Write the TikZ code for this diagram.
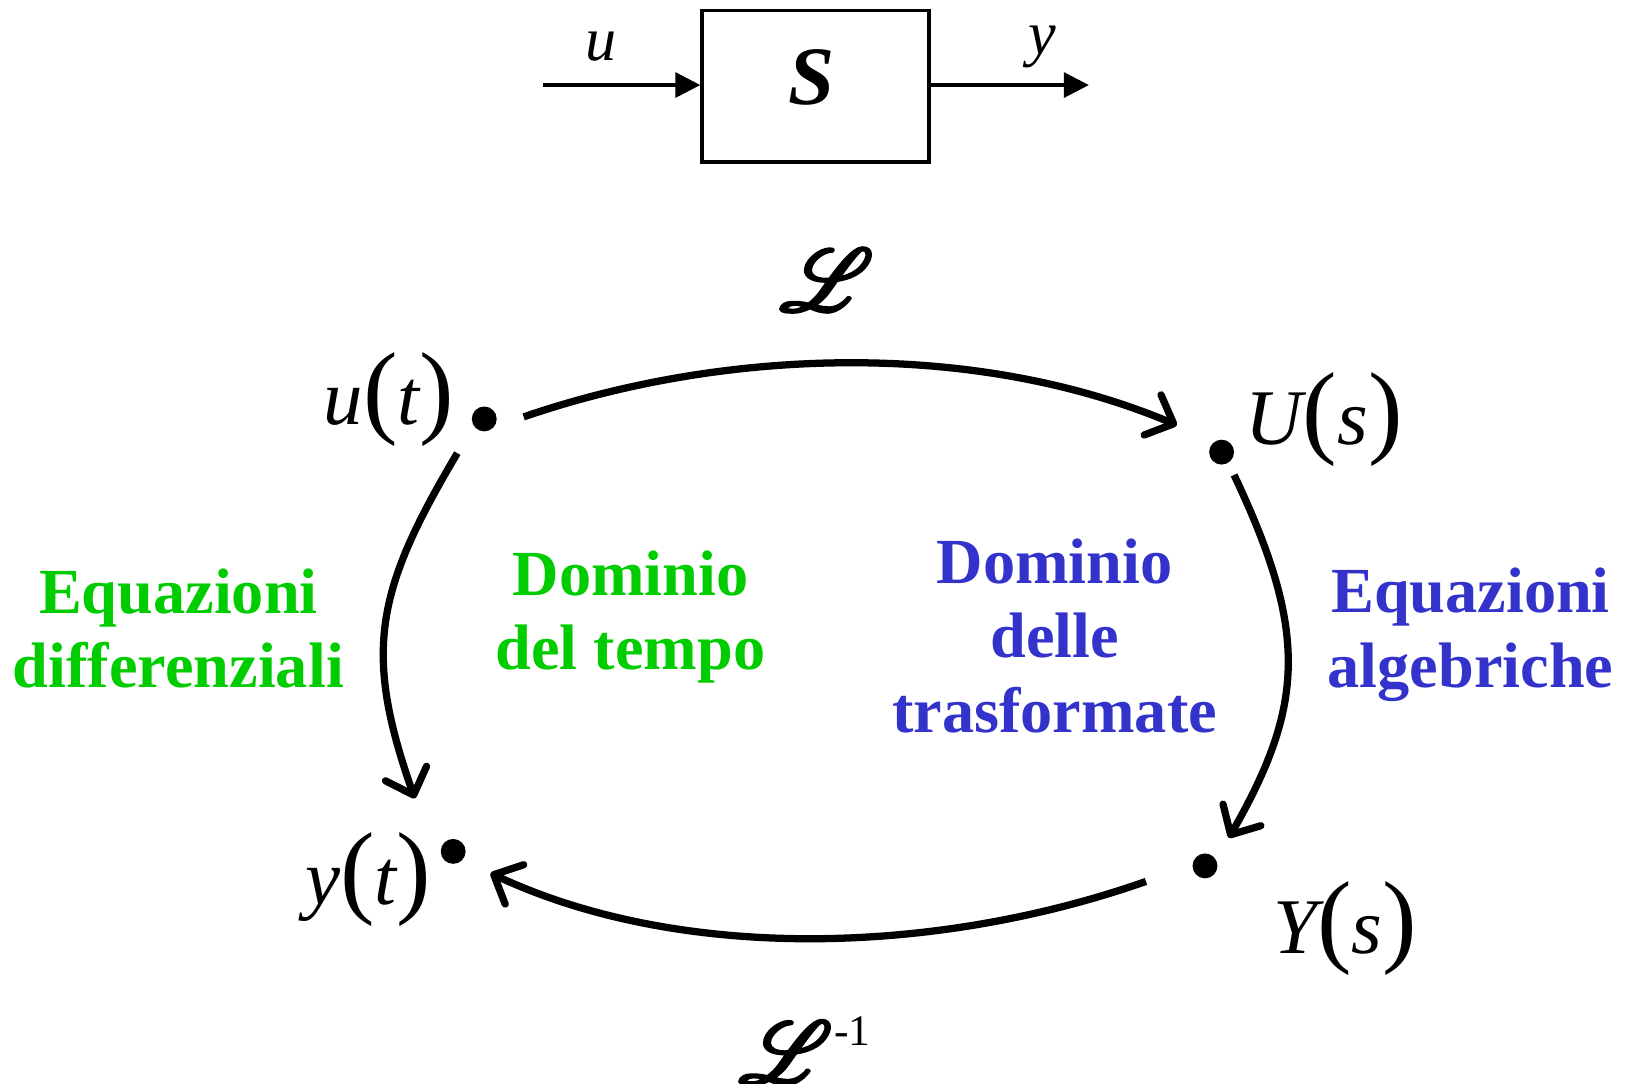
\documentclass[tikz,border=0pt]{standalone}
\usepackage{fontspec}
\setmainfont{Liberation Serif}
\usepackage{mathrsfs}
\usepackage{graphicx}
\usetikzlibrary{arrows.meta}
\definecolor{dgreen}{RGB}{0,204,0}
\definecolor{dblue}{RGB}{51,51,204}
\newcommand{\bigp}[1]{{\fontsize{50}{50}\selectfont\upshape #1}}
\newcommand{\boldL}{\special{pdf:literal direct 2 Tr 0.9 w}$\mathscr{L}$\special{pdf:literal direct 0 Tr}}
\tikzset{
  lbl/.style={font=\fontsize{31}{36}\selectfont\bfseries, align=center, inner sep=0pt},
  gtxt/.style={lbl, text=dgreen},
  btxt/.style={lbl, text=dblue},
  mth/.style={font=\fontsize{38}{40}\selectfont\itshape, inner sep=0pt},
  pt/.style={circle, fill=black, minimum size=12pt, inner sep=0pt},
  arc/.style={line width=3.5pt, -{Straight Barb[length=11pt,width=21pt,round]}},
  sig/.style={line width=1.6pt, -{Triangle[length=12pt,width=12pt]}},
}
\begin{document}
\begin{tikzpicture}[x=0.5pt,y=-0.5pt]
\useasboundingbox (0,0) rectangle (1568,1045);
% block diagram
\node[draw, line width=1.7pt, minimum width=109.5pt, minimum height=73pt, inner sep=0pt] (S) at (786.5,83) {};
\node[font=\fontsize{40}{40}\selectfont\bfseries\itshape] (Slbl) at (783,75) {S};
\coordinate (uin) at (524,82);
\coordinate (yout) at (1050,82);
\draw[sig] (uin) -- (S.west |- uin);
\draw[sig] (S.east |- yout) -- (yout);
\node[mth, font=\fontsize{30}{30}\selectfont\itshape] (ulbl) at (580,45) {u};
\node[mth, font=\fontsize{30}{30}\selectfont\itshape] (ylbl) at (1005,45) {y};
% dots
\node[pt] (ut) at (467,404) {};
\node[pt] (Us) at (1178,436) {};
\node[pt] (yt) at (437,821) {};
\node[pt] (Ys) at (1162,835) {};
% labels
\node[mth] (utl) at (375,385) {u\bigp{(}t\bigp{)}};
\node[mth] (Usl) at (1277,405) {U\bigp{(}s\bigp{)}};
\node[mth] (ytl) at (355,848) {y\bigp{(}t\bigp{)}};
\node[mth] (Ysl) at (1297,895) {Y\bigp{(}s\bigp{)}};
\node[inner sep=0pt] (L) at (797,270) {\scalebox{1.7}{\fontsize{24.88}{25}\selectfont\boldL}};
\node[inner sep=0pt, anchor=south west] (Linv) at (712,1045) {\scalebox{1.7}{\fontsize{24.88}{25}\selectfont\boldL}\hspace{1pt}\raisebox{18pt}{\fontsize{21}{21}\selectfont -1}};
% arcs
\coordinate (a1s) at (505,402);
\coordinate (a1e) at (1135,410);
\coordinate (a2s) at (1190,458);
\coordinate (a2e) at (1185,808);
\coordinate (a3s) at (1105,850);
\coordinate (a3e) at (473,842);
\coordinate (a4s) at (441,437);
\coordinate (a4e) at (400,770);
\draw[arc] (a1s) .. controls (700,335) and (940,328) .. (a1e);
\draw[arc] (a2s) .. controls (1262,610) and (1258,680) .. (a2e);
\draw[arc] (a3s) .. controls (900,922) and (654,927) .. (a3e);
\draw[arc] (a4s) .. controls (362,570) and (350,628) .. (a4e);
% texts
\node[gtxt] (t1) at (172,606) {Equazioni\\differenziali};
\node[gtxt] (t2) at (608,595) {Dominio\\del tempo};
\node[btxt] (t3) at (1017,613) {Dominio\\delle\\trasformate};
\node[btxt] (t4) at (1418,612) {Equazioni\\algebriche};
\end{tikzpicture}
\end{document}
